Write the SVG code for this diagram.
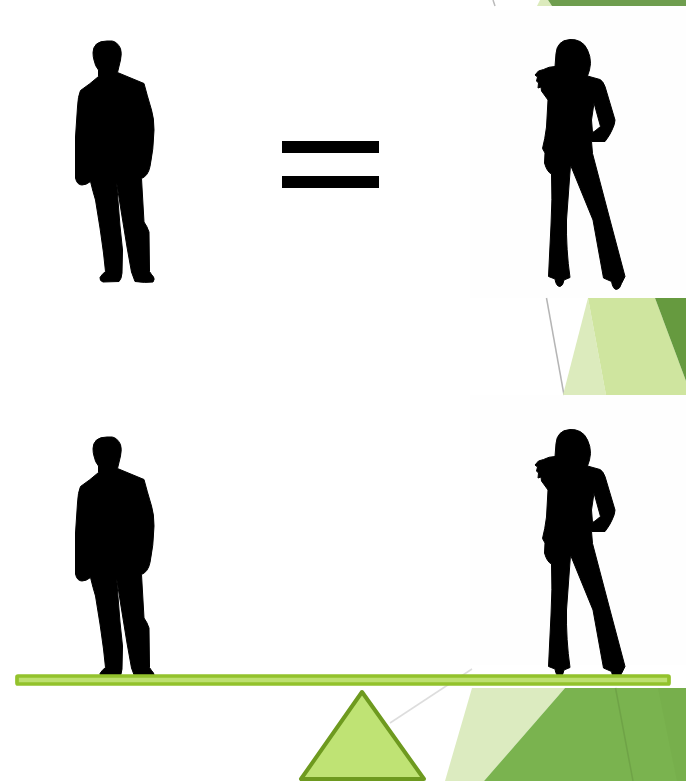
<svg xmlns="http://www.w3.org/2000/svg" width="686" height="781" viewBox="0 0 686 781">
<style>
.sil{fill:#000;fill-rule:evenodd;stroke:#000;stroke-width:1;stroke-linejoin:round;filter:url(#soft)}
.bar{fill:#000}
</style>
<defs>
<filter id="soft" x="-5%" y="-5%" width="110%" height="110%"><feGaussianBlur stdDeviation="0.55"/></filter>
<path id="man" d="M107 41Q100 41 96.500 44Q93 47.500 93 52.500Q93 57 94 60Q95 66 98.500 70L98.500 76.500Q90 84 80.500 90.500Q78 96 77.500 107L75.500 137L75.500 178Q77 185 82 185Q86 185 90.500 181.500Q93 192 95.500 200L100 228L101 235L103.500 253L105.500 271.500Q102 274 100 277.500Q99.500 281 103 282L119 281.500Q121.500 279 122 273L122.500 250L120 226L116.500 181.500L120.500 207L127 247L131.500 272L135 281.500Q145 283 153 282Q155 279 153.500 277Q151 274 149.500 271.500L149 232Q147 226 144 222L141.500 178.500Q148 176 150 166.500Q153.500 150 154 130Q154 118 151.500 110Q147 95 144 83.500L117.500 72.500L120.500 60Q122 53 120.500 48.500Q117 41.500 112 41Z"/>
<path id="woman" d="M570 39.500Q563 40 560 43.500Q556.500 47 556 53.500L555 66.500Q549 66.500 543.500 69.500L538.500 71L535 75L537.500 77L536.500 81L538.500 83L538 88L541 87L541.500 91L548 100L546.500 127Q545 139 542.500 148.500L545 153L544.500 163Q547 172 551.500 174Q552.500 200 551 225L548.500 276.500L555 279Q556 286.500 560 286.500Q563 286 564 280L570 277.500Q566 250 566.500 220L570.500 165L593 220L603.500 278L611.500 281.500Q613 289.500 616.500 289.500Q620 289 621.500 283.500L625 276.500L610 220L592.500 153.500L591.500 141.500L605 141.500Q610 135 612 130Q615 124 615 120L605 86.500Q603 81 600 79.500L587.500 76Q590 70 590.500 63.500Q590.500 56 587.500 50Q585 44 580 41.500Q575 39 570 39.500ZM594 103L600.500 126.500L595 131L592.500 132.500L591.500 120Z"/>
</defs>
<rect width="686" height="781" fill="#fff"/>
<rect x="470" y="10" width="216" height="288" fill="#fefefe"/>
<rect x="470" y="395" width="216" height="270" fill="#fefefe"/>
<g id="background-top">
<line x1="493" y1="0" x2="495" y2="6" stroke="#bbb" stroke-width="1.500"/>
<polygon points="537,6 540,0 548,0 552,6" fill="#dcebbd"/>
<polygon points="548,0 686,0 686,6 552,6" fill="#6f9e4f"/>
</g>
<g id="background-middle">
<line x1="546.500" y1="298" x2="564" y2="395" stroke="#b5b5b5" stroke-width="1.500"/>
<polygon points="588,298 563,395 606,395" fill="#dcebbd"/>
<polygon points="588,298 655,298 686,381 686,395 606,395" fill="#cfe59f"/>
<polygon points="655,298 686,298 686,381" fill="#669a3f"/>
</g>
<g id="background-bottom">
<line x1="472" y1="669" x2="390" y2="723" stroke="#ddd" stroke-width="1.500"/>
<polygon points="472,688 565,688 484,781 445,781" fill="#dcebc0"/>
<polygon points="565,688 686,688 686,781 484,781" fill="#7ab34f"/>
<polygon points="658,688 686,688 686,781 677,781" fill="#77af4c"/>
<line x1="615.500" y1="688" x2="633" y2="781" stroke="#6fa347" stroke-width="1.500"/>
</g>
<g id="man-top"><use href="#man" class="sil"/></g>
<g id="woman-top"><use href="#woman" class="sil"/></g>
<g id="equals">
<rect class="bar" x="282" y="141" width="97" height="12"/>
<rect class="bar" x="282" y="176" width="97" height="12"/>
</g>
<g id="man-bottom"><use href="#man" class="sil" y="396"/></g>
<g id="woman-bottom"><use href="#woman" class="sil" y="390"/></g>
<g id="beam"><rect x="17" y="676" width="652" height="8" rx="1" fill="#bde070" stroke="#93c22c" stroke-width="3.700"/></g>
<g id="fulcrum"><polygon points="362,692 301,779 424,779" fill="#bfe374" stroke="#6e9a1f" stroke-width="4" stroke-linejoin="round"/></g>
</svg>
